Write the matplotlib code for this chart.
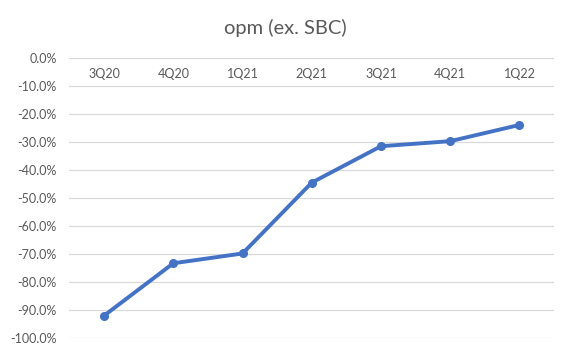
import matplotlib
matplotlib.use("Agg")
import matplotlib.pyplot as plt
import matplotlib.ticker as mticker

quarters = ["3Q20", "4Q20", "1Q21", "2Q21", "3Q21", "4Q21", "1Q22"]
opm = [-0.919, -0.732, -0.697, -0.444, -0.314, -0.296, -0.238]
yticks = [0, -0.1, -0.2, -0.3, -0.4, -0.5, -0.6, -0.7, -0.8, -0.9, -1.0]

plt.rcParams['font.family'] = ['Lato', 'DejaVu Sans']
plt.rcParams['axes.unicode_minus'] = False
grey = '#595959'

fig = plt.figure(figsize=(5.71, 3.55), dpi=100)
ax = fig.add_axes([0.1217, 0.047, 0.8486, 0.7888])

x = range(len(quarters))
ax.plot(x, opm, color='#4472C4', lw=2.8, marker='o', ms=5.5, zorder=3)

ax.set_xlim(-0.5, len(quarters) - 0.5)
ax.set_ylim(-1.0, 0)
ax.set_yticks(yticks)
ax.yaxis.set_major_formatter(mticker.PercentFormatter(1.0, decimals=1))
ax.tick_params(axis='y', length=0, pad=9, labelsize=9, labelcolor=grey)
ax.set_xticks([])
ax.grid(axis='y', color='#D9D9D9', lw=0.9)
ax.set_axisbelow(True)
for s in ax.spines.values():
    s.set_visible(False)

# category labels sit just under the 0% line, like excel does
for i, q in enumerate(quarters):
    ax.text(i, -0.055, q, ha='center', va='center', fontsize=9, color=grey)

fig.text(0.5, 0.922, "opm (ex. SBC)", ha='center', va='center', fontsize=14.5, color=grey)

fig.savefig("out.png", dpi=100)
